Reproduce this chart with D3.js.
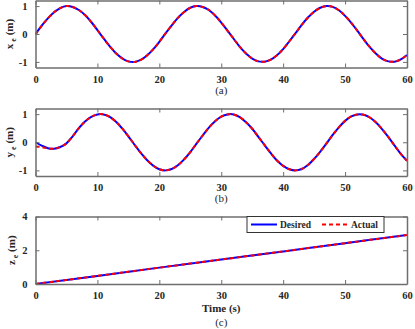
<!DOCTYPE html>
<html>
<head>
<meta charset="utf-8">
<script src="https://cdn.jsdelivr.net/npm/d3@7"></script>
<style>
  body { margin: 0; background: #fff; }
  svg { display: block; }
  text { font-family: "Liberation Serif", "Times New Roman", serif; fill: #262626; }
</style>
</head>
<body>
<script>
// time samples (s)
const timeS = [0,1,2,3,4,5,6,7,8,9,10,11,12,13,14,15,16,17,18,19,20,
  21,22,23,24,25,26,27,28,29,30,31,32,33,34,35,36,37,38,39,40,
  41,42,43,44,45,46,47,48,49,50,51,52,53,54,55,56,57,58,59,60];

const xDesired = [0,0.30,0.56,0.78,0.93,1.00,0.97,0.86,0.68,0.43,0.14,
  -0.16,-0.44,-0.69,-0.87,-0.98,-1.00,-0.93,-0.77,-0.55,-0.28,
  0.02,0.31,0.58,0.79,0.94,1.00,0.97,0.86,0.66,0.41,
  0.12,-0.17,-0.46,-0.70,-0.88,-0.98,-0.99,-0.92,-0.76,-0.54,
  -0.26,0.03,0.33,0.59,0.80,0.94,1.00,0.97,0.85,0.65,
  0.40,0.11,-0.19,-0.47,-0.71,-0.89,-0.98,-0.99,-0.91,-0.75];
const xActual = [-0.02,0.29,0.56,0.78,0.93,1.00,0.97,0.86,0.68,0.43,0.14,
  -0.16,-0.44,-0.69,-0.87,-0.98,-1.00,-0.93,-0.77,-0.55,-0.28,
  0.02,0.31,0.58,0.79,0.94,1.00,0.97,0.86,0.66,0.41,
  0.12,-0.17,-0.46,-0.70,-0.88,-0.98,-0.99,-0.92,-0.76,-0.54,
  -0.26,0.03,0.33,0.59,0.80,0.94,1.00,0.97,0.85,0.65,
  0.40,0.11,-0.19,-0.47,-0.71,-0.89,-0.98,-0.99,-0.91,-0.75];

const yDesired = [0,-0.12,-0.21,-0.23,-0.17,-0.04,0.21,0.50,0.74,0.90,0.99,
  0.99,0.90,0.73,0.49,0.21,-0.09,-0.38,-0.63,-0.83,-0.96,
  -1.00,-0.95,-0.82,-0.61,-0.35,-0.05,0.24,0.52,0.75,0.91,
  0.99,0.99,0.89,0.71,0.48,0.19,-0.10,-0.39,-0.65,-0.84,
  -0.96,-1.00,-0.95,-0.81,-0.59,-0.33,-0.04,0.26,0.53,0.76,
  0.92,0.99,0.98,0.88,0.70,0.46,0.18,-0.12,-0.41,-0.66];
const yActual = [-0.15,-0.17,-0.22,-0.23,-0.17,-0.04,0.21,0.50,0.74,0.90,0.99,
  0.99,0.90,0.73,0.49,0.21,-0.09,-0.38,-0.63,-0.83,-0.96,
  -1.00,-0.95,-0.82,-0.61,-0.35,-0.05,0.24,0.52,0.75,0.91,
  0.99,0.99,0.89,0.71,0.48,0.19,-0.10,-0.39,-0.65,-0.84,
  -0.96,-1.00,-0.95,-0.81,-0.59,-0.33,-0.04,0.26,0.53,0.76,
  0.92,0.99,0.98,0.88,0.70,0.46,0.18,-0.12,-0.41,-0.66];

const zTime = [0,10,20,30,40,50,60];
const zDesired = [0,0.48,0.97,1.45,1.93,2.42,2.9];
const zActual = [0,0.48,0.97,1.45,1.93,2.42,2.9];

const xTicks = [0,10,20,30,40,50,60];
const sineTicks = [-1,0,1];
const zTicks = [0,2,4];
const legendNames = ["Desired","Actual"];
const captions = ["(a)","(b)","(c)"];

const W = 415, H = 329;
const left = 35.5, right = 407;

const svg = d3.select("body").append("svg")
  .attr("width", W)
  .attr("height", H);

const x = d3.scaleLinear().domain([0,60]).range([left, right]);

const panels = [
  {top: 0.5, bottom: 67.5, dom: [-1.2,1.2], ticks: sineTicks, v: "x", des: xDesired, act: xActual, t: timeS, labX: 12.5, cap: 94},
  {top: 108.5, bottom: 176, dom: [-1.2,1.2], ticks: sineTicks, v: "y", des: yDesired, act: yActual, t: timeS, labX: 12.5, cap: 202},
  {top: 216.5, bottom: 284, dom: [0,4], ticks: zTicks, v: "z", des: zDesired, act: zActual, t: zTime, labX: 15, cap: 326}
];

const axisCol = "#6e6e6e";
const plain = function (d) { return String(d); };

panels.forEach(function (p, i) {
  const y = d3.scaleLinear().domain(p.dom).range([p.bottom, p.top]);
  const g = svg.append("g");

  const clipId = "clip" + i;
  svg.append("clipPath").attr("id", clipId)
    .append("rect")
    .attr("x", left).attr("y", p.top)
    .attr("width", right - left).attr("height", p.bottom - p.top);

  const line = d3.line()
    .x(function (d, k) { return x(p.t[k]); })
    .y(function (d) { return y(d); })
    .curve(d3.curveCatmullRom);

  g.append("path")
    .datum(p.des)
    .attr("clip-path", "url(#" + clipId + ")")
    .attr("d", line)
    .attr("fill", "none")
    .attr("stroke", "#0000ff")
    .attr("stroke-width", 2);

  g.append("path")
    .datum(p.act)
    .attr("clip-path", "url(#" + clipId + ")")
    .attr("d", line)
    .attr("fill", "none")
    .attr("stroke", "#ff0000")
    .attr("stroke-width", 2)
    .attr("stroke-dasharray", "4,3");

  // axes, ticks inward
  const tl = 4;
  g.append("g").attr("transform", "translate(0," + p.bottom + ")")
    .call(d3.axisBottom(x).tickValues(xTicks).tickFormat(plain).tickSizeInner(-tl).tickSizeOuter(0).tickPadding(8))
    .call(styleAxis);
  g.append("g").attr("transform", "translate(0," + p.top + ")")
    .call(d3.axisTop(x).tickValues(xTicks).tickSizeInner(-tl).tickSizeOuter(0).tickFormat(""))
    .call(styleAxis);
  g.append("g").attr("transform", "translate(" + left + ",0)")
    .call(d3.axisLeft(y).tickValues(p.ticks).tickFormat(plain).tickSizeInner(-tl).tickSizeOuter(0).tickPadding(8))
    .call(styleAxis);
  g.append("g").attr("transform", "translate(" + right + ",0)")
    .call(d3.axisRight(y).tickValues(p.ticks).tickSizeInner(-tl).tickSizeOuter(0).tickFormat(""))
    .call(styleAxis);

  // y label
  const cy = (p.top + p.bottom) / 2;
  const lab = g.append("text")
    .attr("transform", "translate(" + p.labX + "," + cy + ") rotate(-90)")
    .attr("text-anchor", "middle")
    .style("font-size", "11px")
    .style("font-weight", "bold");
  lab.append("tspan").text(p.v);
  lab.append("tspan").attr("dy", 3).style("font-size", "8px").text(" e");
  lab.append("tspan").attr("dy", -3).text(" (m)");

  g.append("text")
    .attr("x", (left + right) / 2)
    .attr("y", p.cap)
    .attr("text-anchor", "middle")
    .style("font-size", "11px")
    .text(captions[i]);
});

svg.append("text")
  .attr("x", (left + right) / 2)
  .attr("y", 312)
  .attr("text-anchor", "middle")
  .style("font-size", "11px")
  .style("font-weight", "bold")
  .text("Time (s)");

function styleAxis(sel) {
  sel.attr("font-family", null);
  sel.select(".domain").attr("stroke", axisCol).attr("stroke-width", 1.5);
  sel.selectAll(".tick line").attr("stroke", axisCol).attr("stroke-width", 1);
  sel.selectAll(".tick text")
    .style("font-family", "'Liberation Serif', serif")
    .style("font-size", "10.5px")
    .style("font-weight", "bold")
    .attr("fill", "#262626");
}

// legend
const lg = svg.append("g");
lg.append("rect")
  .attr("x", 247).attr("y", 216.5)
  .attr("width", 137).attr("height", 16)
  .attr("fill", "#fff")
  .attr("stroke", "#333")
  .attr("stroke-width", 1);
const legCols = ["#0000ff", "#ff0000"];
const legDash = [null, "4,3"];
const legX = [251, 322];
legendNames.forEach(function (n, k) {
  lg.append("line")
    .attr("x1", legX[k]).attr("x2", legX[k] + 26)
    .attr("y1", 224.5).attr("y2", 224.5)
    .attr("stroke", legCols[k])
    .attr("stroke-width", 2)
    .attr("stroke-dasharray", legDash[k]);
  lg.append("text")
    .attr("x", legX[k] + 29)
    .attr("y", 228)
    .style("font-size", "9.5px")
    .style("font-weight", "bold")
    .text(n);
});
</script>
</body>
</html>
